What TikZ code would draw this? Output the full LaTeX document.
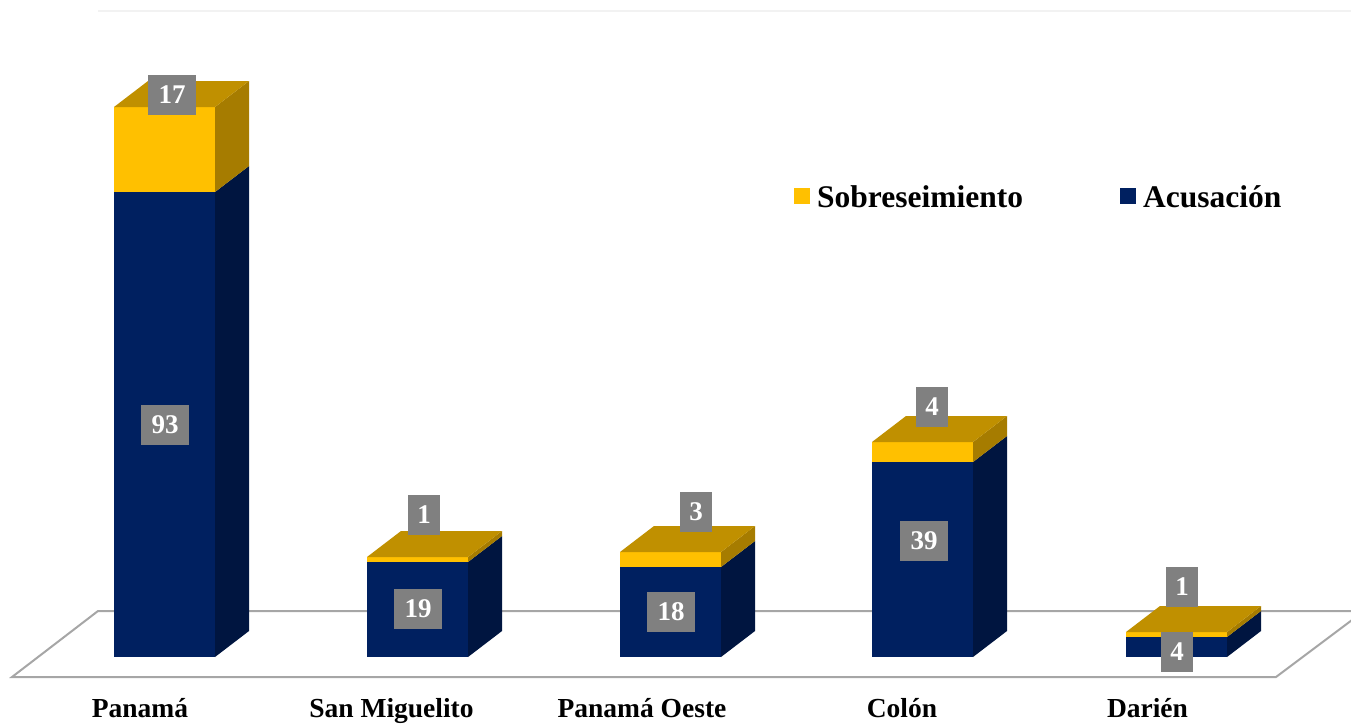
\documentclass[tikz,border=0pt]{standalone}
\usepackage{fontspec}
\setmainfont{Liberation Serif}
\definecolor{bluefront}{HTML}{002060}
\definecolor{blueside}{HTML}{001540}
\definecolor{yelfront}{HTML}{FFC000}
\definecolor{yelside}{HTML}{A67C00}
\definecolor{yeltop}{HTML}{C09000}
\definecolor{floorgray}{HTML}{A6A6A6}
\definecolor{lblgray}{HTML}{808080}
\newcommand\drawbar[3]{%
  \fill[bluefront] (#1,#3) rectangle ({#1+101},657);
  \fill[yelfront] (#1,#2) rectangle ({#1+101},#3);
  \fill[blueside] ({#1+101},657) -- ({#1+135},631) -- ({#1+135},{#3-26}) -- ({#1+101},#3) -- cycle;
  \fill[yelside] ({#1+101},#3) -- ({#1+135},{#3-26}) -- ({#1+135},{#2-26}) -- ({#1+101},#2) -- cycle;
  \fill[yeltop] (#1,#2) -- ({#1+101},#2) -- ({#1+135},{#2-26}) -- ({#1+34},{#2-26}) -- cycle;
}
\tikzset{
  numbox/.style={fill=lblgray, text=white, inner sep=0pt, minimum height=40pt,
    font=\bfseries\fontsize{27}{30}\selectfont},
  numtwo/.style={numbox, minimum width=48pt},
  numone/.style={numbox, minimum width=32pt},
  catlabel/.style={anchor=base, inner sep=0pt, font=\bfseries\fontsize{27.5}{30}\selectfont},
  legtext/.style={anchor=base west, inner sep=0pt, font=\bfseries\fontsize{31.5}{34}\selectfont},
  floorline/.style={draw=floorgray, line width=2pt}
}
\begin{document}
\begin{tikzpicture}[x=1pt,y=-1pt]
\useasboundingbox (0,0) rectangle (1351,724);
\draw[draw=black!5, line width=1.5pt] (98,11) -- (1351,11);
% floor
\begin{scope}
\clip (0,0) rectangle (1351,724);
\draw[floorline] (1364,611) -- (98,611) -- (12,677) -- (1276,677) -- (1364,611);
\end{scope}
% bars
\drawbar{114}{107}{192}
\drawbar{367}{557}{562}
\drawbar{620}{552}{567}
\drawbar{872}{442}{462}
\drawbar{1126}{632}{637}
% value labels
\node[numtwo] (p17) at (172,95) {17};
\node[numtwo] (p93) at (165,425) {93};
\node[numone] (s1) at (424,515) {1};
\node[numtwo] (s19) at (418,609) {19};
\node[numone] (o3) at (696,512) {3};
\node[numtwo] (o18) at (671,612) {18};
\node[numone] (c4) at (932,407) {4};
\node[numtwo] (c39) at (924,541) {39};
\node[numone] (d1) at (1182,587) {1};
\node[numone] (d4) at (1177,652) {4};
% categories
\node[catlabel] (cp) at (140,717) {Panamá};
\node[catlabel] (cs) at (391.5,717) {San Miguelito};
\node[catlabel] (co) at (642,717) {Panamá Oeste};
\node[catlabel] (cc) at (902,717) {Colón};
\node[catlabel] (cd) at (1147.5,717) {Darién};
% legend
\fill[yelfront] (794,188) rectangle (810,204);
\node[legtext] (ls) at (817,207) {Sobreseimiento};
\fill[bluefront] (1120,188) rectangle (1136,204);
\node[legtext] (la) at (1143,207) {Acusación};
\end{tikzpicture}
\end{document}
